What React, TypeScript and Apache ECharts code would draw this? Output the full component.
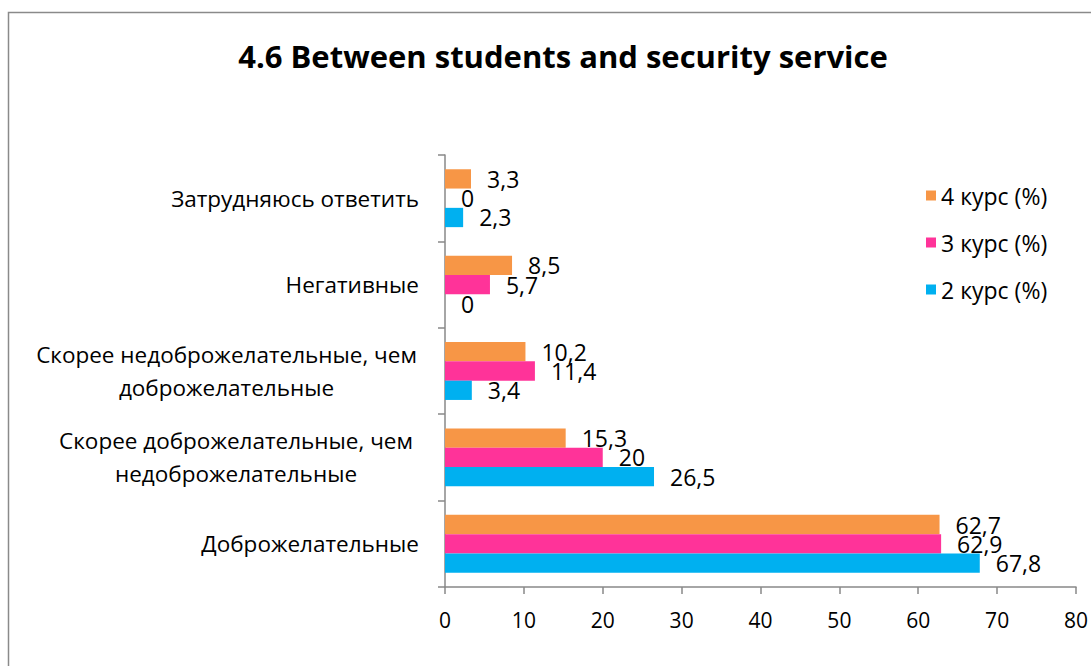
import React, { useEffect, useRef } from "react";
import * as echarts from "echarts";

const categories = [
  "Доброжелательные",
  "Скорее доброжелательные, чем\nнедоброжелательные",
  "Скорее недоброжелательные, чем\nдоброжелательные",
  "Негативные",
  "Затрудняюсь ответить",
];
const course4 = [62.7, 15.3, 10.2, 8.5, 3.3];
const course3 = [62.9, 20, 11.4, 5.7, 0];
const course2 = [67.8, 26.5, 3.4, 0, 2.3];
const seriesNames = ["4 курс (%)", "3 курс (%)", "2 курс (%)"];
const xTicks = { min: 0, max: 80, interval: 10 };
const titleText = "4.6 Between students and security service";

const FONT = "'Open Sans', 'Liberation Sans', Arial, sans-serif";

export default function App() {
  const ref = useRef<HTMLDivElement>(null);
  useEffect(() => {
    document.body.style.margin = "0";
    const chart = echarts.init(ref.current!, null, { renderer: "svg" });
    const label = {
      show: true,
      position: "right",
      distance: 16,
      fontSize: 23,
      lineHeight: 18,
      fontFamily: FONT,
      color: "#000",
      formatter: (p: any) => String(p.value).replace(".", ","),
    };
    const mk = (name: string, data: number[], color: string) => ({
      name,
      type: "bar",
      data,
      barCategoryGap: "33%",
      barGap: "0%",
      itemStyle: { color },
      label,
    });
    chart.setOption({
      animation: false,
      textStyle: { fontFamily: FONT },
      title: {
        text: titleText,
        left: 558,
        textAlign: "center",
        top: 35,
        textStyle: { fontSize: 31, fontWeight: "bold", color: "#000", fontFamily: FONT },
      },
      graphic: [
        {
          type: "rect",
          shape: { x: 8.5, y: 12.5, width: 1200, height: 800 },
          style: { fill: "none", stroke: "#8a8a8a", lineWidth: 1.5 },
          silent: true,
        },
      ],
      legend: {
        orient: "vertical",
        left: 921,
        top: 179,
        itemGap: 24,
        itemWidth: 10,
        itemHeight: 10,
        icon: "rect",
        data: seriesNames,
        textStyle: { fontSize: 23, color: "#000", fontFamily: FONT },
      },
      grid: { left: 445, right: 14, top: 155, bottom: 79 },
      xAxis: {
        type: "value",
        min: xTicks.min,
        max: xTicks.max,
        interval: xTicks.interval,
        splitLine: { show: false },
        axisLine: { show: true, lineStyle: { color: "#888", width: 1.5 } },
        axisTick: { show: true, length: 7, lineStyle: { color: "#888", width: 1.5 } },
        axisLabel: { fontSize: 21, color: "#000", margin: 22, fontFamily: FONT },
      },
      yAxis: {
        type: "category",
        data: categories,
        axisLine: { show: true, lineStyle: { color: "#888", width: 1.5 } },
        axisTick: { show: true, length: 7, lineStyle: { color: "#888", width: 1.5 } },
        axisLabel: {
          fontSize: 22.5,
          color: "#000",
          margin: 26,
          fontFamily: FONT,
          lineHeight: 33,
          formatter: (v: string) => {
            const parts = v.split("\n");
            if (parts.length === 1) return v;
            const key = v.startsWith("Скорее недоброж") ? "a" : "b";
            return parts.map((s) => `{${key}|${s}}`).join("\n");
          },
          rich: {
            a: { width: 385, align: "center", fontSize: 22.5, fontFamily: FONT, lineHeight: 33 },
            b: { width: 366, align: "center", fontSize: 22.5, fontFamily: FONT, lineHeight: 33 },
          },
        },
      },
      series: [
        mk(seriesNames[0], course4, "#F79646"),
        mk(seriesNames[1], course3, "#FF3399"),
        mk(seriesNames[2], course2, "#00B0F0"),
      ],
    });
    return () => chart.dispose();
  }, []);
  return <div ref={ref} style={{ width: 1091, height: 666 }} />;
}
